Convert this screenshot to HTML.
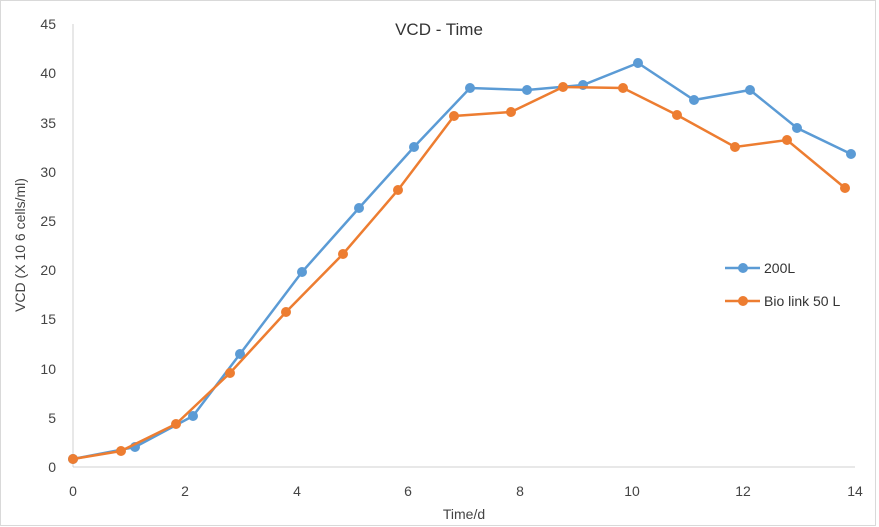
<!DOCTYPE html>
<html><head><style>body{margin:0;background:#fff}svg{display:block}</style></head><body>
<svg width="879" height="527" xmlns="http://www.w3.org/2000/svg" font-family="Liberation Sans, sans-serif">
<rect x="0.5" y="0.5" width="875" height="525" fill="#fff" stroke="#d9d9d9"/>
<line x1="73" y1="24" x2="73" y2="467" stroke="#d0d0d0"/>
<line x1="73" y1="467" x2="855" y2="467" stroke="#d0d0d0"/>
<text x="439" y="35" font-size="17" text-anchor="middle" fill="#333">VCD - Time</text>
<g font-size="14" fill="#444" text-anchor="end">
<text x="56" y="472">0</text><text x="56" y="423">5</text><text x="56" y="374">10</text><text x="56" y="324">15</text><text x="56" y="275">20</text><text x="56" y="226">25</text><text x="56" y="177">30</text><text x="56" y="128">35</text><text x="56" y="78">40</text><text x="56" y="29">45</text>
</g>
<g font-size="14" fill="#444" text-anchor="middle">
<text x="73" y="496">0</text><text x="185" y="496">2</text><text x="297" y="496">4</text><text x="408" y="496">6</text><text x="520" y="496">8</text><text x="632" y="496">10</text><text x="743" y="496">12</text><text x="855" y="496">14</text>
</g>
<text x="464" y="519" font-size="14" fill="#444" text-anchor="middle">Time/d</text>
<text transform="translate(25,245) rotate(-90)" font-size="14" fill="#444" text-anchor="middle">VCD (X 10 6 cells/ml)</text>
<g stroke="#5b9bd5" stroke-width="2.5" fill="none"><polyline points="73,459 135,447 193,416 240,354 302,272 359,208 414,147 470,88 527,90 583,85 638,63 694,100 750,90 797,128 851,154"/><line x1="725" y1="268" x2="760" y2="268"/></g>
<g fill="#5b9bd5"><circle cx="73" cy="459" r="5"/><circle cx="135" cy="447" r="5"/><circle cx="193" cy="416" r="5"/><circle cx="240" cy="354" r="5"/><circle cx="302" cy="272" r="5"/><circle cx="359" cy="208" r="5"/><circle cx="414" cy="147" r="5"/><circle cx="470" cy="88" r="5"/><circle cx="527" cy="90" r="5"/><circle cx="583" cy="85" r="5"/><circle cx="638" cy="63" r="5"/><circle cx="694" cy="100" r="5"/><circle cx="750" cy="90" r="5"/><circle cx="797" cy="128" r="5"/><circle cx="851" cy="154" r="5"/><circle cx="743" cy="268" r="5"/></g>
<g stroke="#ed7d31" stroke-width="2.5" fill="none"><polyline points="73,459 121,451 176,424 230,373 286,312 343,254 398,190 454,116 511,112 563,87 623,88 677,115 735,147 787,140 845,188"/><line x1="725" y1="301" x2="760" y2="301"/></g>
<g fill="#ed7d31"><circle cx="73" cy="459" r="5"/><circle cx="121" cy="451" r="5"/><circle cx="176" cy="424" r="5"/><circle cx="230" cy="373" r="5"/><circle cx="286" cy="312" r="5"/><circle cx="343" cy="254" r="5"/><circle cx="398" cy="190" r="5"/><circle cx="454" cy="116" r="5"/><circle cx="511" cy="112" r="5"/><circle cx="563" cy="87" r="5"/><circle cx="623" cy="88" r="5"/><circle cx="677" cy="115" r="5"/><circle cx="735" cy="147" r="5"/><circle cx="787" cy="140" r="5"/><circle cx="845" cy="188" r="5"/><circle cx="743" cy="301" r="5"/></g>
<text x="764" y="273" font-size="14" fill="#333">200L</text>
<text x="764" y="306" font-size="14" fill="#333">Bio link 50 L</text>
</svg>
</body></html>
